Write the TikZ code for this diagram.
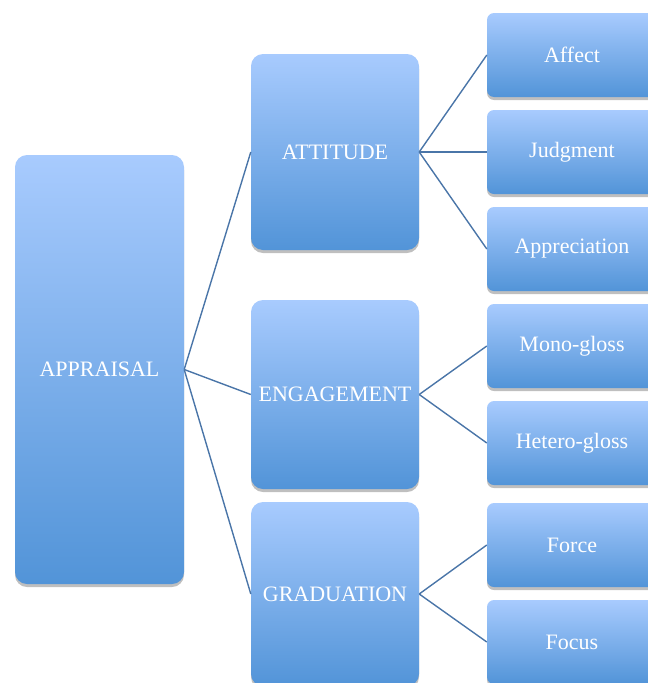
\documentclass[tikz,border=0pt]{standalone}
\usepackage{fontspec}
\setmainfont{Liberation Serif}
\usetikzlibrary{shadows}
\definecolor{topc}{HTML}{A8CBFE}
\definecolor{botc}{HTML}{5294D8}
\definecolor{linec}{HTML}{4A75A8}
\tikzset{
  box/.style={rounded corners=#1, top color=topc, bottom color=botc, draw=none,
    text=white, font=\fontsize{22}{25}\selectfont, inner sep=0pt,
    drop shadow={shadow xshift=0pt, shadow yshift=-3pt, opacity=0.25, fill=black}},
  conn/.style={draw=linec, line width=1.4pt}
}
\begin{document}
\begin{tikzpicture}[x=1pt,y=-1pt]
\useasboundingbox (0,0) rectangle (648,683);
\clip (0,0) rectangle (648,683);
\node[box=12pt, minimum width=169pt, minimum height=429pt] (app) at (99.5,369.5) {APPRAISAL};
\node[box=12pt, minimum width=168pt, minimum height=196pt] (att) at (335,152) {ATTITUDE};
\node[box=12pt, minimum width=168pt, minimum height=189pt] (eng) at (335,394.5) {ENGAGEMENT};
\node[box=12pt, minimum width=168pt, minimum height=184pt] (gra) at (335,594) {GRADUATION};
\node[box=7pt, minimum width=170pt, minimum height=84pt] (aff) at (572,55) {Affect};
\node[box=7pt, minimum width=170pt, minimum height=84pt] (jud) at (572,152) {Judgment};
\node[box=7pt, minimum width=170pt, minimum height=84pt] (apr) at (572,249) {Appreciation};
\node[box=7pt, minimum width=170pt, minimum height=84pt] (mon) at (572,346) {Mono-gloss};
\node[box=7pt, minimum width=170pt, minimum height=84pt] (het) at (572,443) {Hetero-gloss};
\node[box=7pt, minimum width=170pt, minimum height=84pt] (for) at (572,545) {Force};
\node[box=7pt, minimum width=170pt, minimum height=84pt] (foc) at (572,642) {Focus};
\draw[conn] (app.east) -- (att.west);
\draw[conn] (app.east) -- (eng.west);
\draw[conn] (app.east) -- (gra.west);
\draw[conn] (att.east) -- (aff.west);
\draw[conn] (att.east) -- (jud.west);
\draw[conn] (att.east) -- (apr.west);
\draw[conn] (eng.east) -- (mon.west);
\draw[conn] (eng.east) -- (het.west);
\draw[conn] (gra.east) -- (for.west);
\draw[conn] (gra.east) -- (foc.west);
\end{tikzpicture}
\end{document}
